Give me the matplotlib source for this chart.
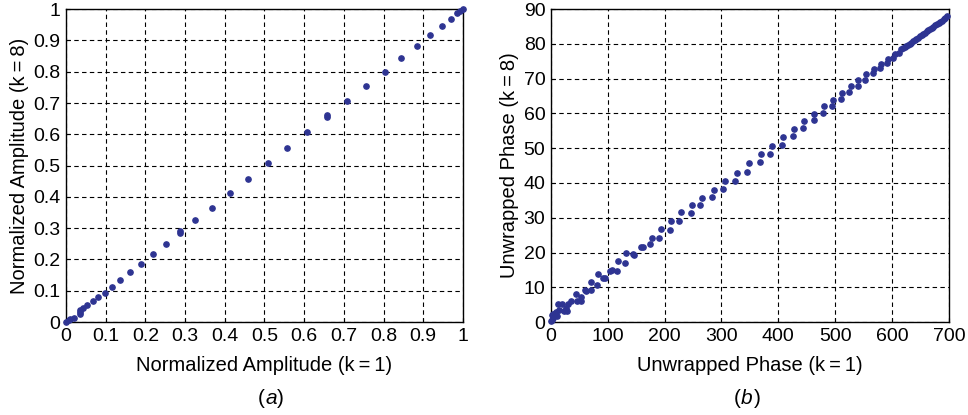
import numpy as np
import matplotlib
matplotlib.use("Agg")
import matplotlib.pyplot as plt

plt.rcParams['font.family'] = ['Liberation Sans', 'DejaVu Sans']

# (a) normalized amplitude, k=1 vs k=8
amp_k1 = [0.0, 0.007, 0.011, 0.021, 0.034, 0.034, 0.036, 0.043, 0.054, 0.067,
          0.080, 0.097, 0.116, 0.137, 0.161, 0.188, 0.218, 0.251, 0.288, 0.288,
          0.326, 0.368, 0.413, 0.459, 0.508, 0.557, 0.608, 0.658, 0.658, 0.708,
          0.756, 0.803, 0.845, 0.884, 0.918, 0.947, 0.970, 0.986, 0.993, 1.0]
amp_k8 = [0.0, 0.005, 0.011, 0.014, 0.025, 0.032, 0.037, 0.044, 0.054, 0.067,
          0.080, 0.094, 0.112, 0.135, 0.160, 0.186, 0.217, 0.249, 0.284, 0.290,
          0.325, 0.366, 0.411, 0.457, 0.509, 0.555, 0.608, 0.655, 0.662, 0.705,
          0.754, 0.800, 0.844, 0.882, 0.916, 0.945, 0.968, 0.988, 0.994, 0.999]

# (b) unwrapped phase, k=1 vs k=8
ph_k1 = [0.5, 2, 3, 1, 4, 6, 8, 11, 13, 14, 20, 23, 26, 28, 30, 36, 44, 45, 52, 53,
         60, 62, 71, 71, 81, 83, 92, 95, 104, 107, 116, 118, 130, 132, 146, 144,
         159, 162, 174, 177, 190, 193, 209, 212, 226, 229, 246, 248, 263, 265,
         284, 287, 302, 306, 324, 327, 345, 348, 367, 369, 386, 389, 406, 408,
         425, 427, 444, 445, 462, 463, 478, 481, 495, 497, 511, 512, 525, 527,
         540, 541, 553, 555, 567, 568, 579, 581, 591, 593, 602, 605, 613, 615,
         619, 622, 625, 628, 631, 634, 637, 640, 643, 646, 649, 652, 655, 658,
         661, 664, 667, 670, 673, 676, 679, 682, 685, 688, 691, 694, 697]
ph_k8 = [0.3, 0.5, 1.2, 2.0, 2.4, 2.4, 2.9, 1.6, 5.3, 3.4, 5.1, 3.2, 4.1, 3.1, 5.3, 6.0, 8.1, 6.0, 6.0, 7.2,
         9.1, 8.9, 11.4, 9.3, 10.6, 13.9, 12.6, 12.8, 14.6, 15.0, 14.8, 17.6, 17.0, 19.8, 19.3, 19.5,
         21.5, 21.7, 22.5, 24.3, 24.2, 26.7, 26.5, 29.2, 29.0, 31.7, 31.5, 33.6, 33.8, 35.6,
         35.9, 37.9, 38.2, 40.5, 40.7, 43.0, 43.2, 45.6, 45.9, 48.2, 48.4, 50.7, 50.8, 53.2,
         53.4, 55.6, 55.7, 57.8, 58.0, 59.9, 60.1, 62.1, 62.2, 64.0, 64.2, 65.9, 66.1, 67.8,
         68.0, 69.6, 69.7, 71.3, 71.5, 72.8, 73.0, 74.3, 74.6, 75.7, 76.0, 77.1, 77.3, 78.4,
         78.7, 79.0, 79.4, 79.7, 80.1, 80.4, 80.8, 81.1, 81.5, 81.8, 82.2, 82.5, 82.9, 83.2,
         83.6, 83.9, 84.3, 84.6, 85.0, 85.3, 85.7, 86.0, 86.4, 86.7, 87.1, 87.5, 87.9]

amp_ticks = [0, 0.1, 0.2, 0.3, 0.4, 0.5, 0.6, 0.7, 0.8, 0.9, 1]
amp_labels = ['0', '0.1', '0.2', '0.3', '0.4', '0.5', '0.6', '0.7', '0.8', '0.9', '1']
ph_xticks = [0, 100, 200, 300, 400, 500, 600, 700]
ph_yticks = [0, 10, 20, 30, 40, 50, 60, 70, 80, 90]

dot = '#2e3492'

fig = plt.figure(figsize=(9.68, 4.15), dpi=100)
ax1 = fig.add_axes([0.0682, 0.224, 0.410, 0.754])
ax2 = fig.add_axes([0.5692, 0.224, 0.411, 0.754])


def style(ax):
    ax.grid(True, color='black', linestyle=(0, (4, 3)), linewidth=0.8)
    ax.set_axisbelow(True)
    ax.tick_params(direction='in', length=3, labelsize=14, pad=4)
    for s in ax.spines.values():
        s.set_linewidth(1.0)


ax1.plot(amp_k1, amp_k8, 'o', color=dot, markersize=3.8, clip_on=False, zorder=3)
ax1.set_xlim(0, 1)
ax1.set_ylim(0, 1)
ax1.set_xticks(amp_ticks, amp_labels)
ax1.set_yticks(amp_ticks, amp_labels)
style(ax1)
ax1.set_xlabel('Normalized Amplitude (k\u2009=\u20091)', fontsize=14.5, labelpad=8)
ax1.set_ylabel('Normalized Amplitude (k\u2009=\u20098)', fontsize=14.5, labelpad=3)

ax2.plot(ph_k1, ph_k8, 'o', color=dot, markersize=3.8, clip_on=False, zorder=3)
ax2.set_xlim(0, 700)
ax2.set_ylim(0, 90)
ax2.set_xticks(ph_xticks)
ax2.set_yticks(ph_yticks)
style(ax2)
ax2.set_xlabel('Unwrapped Phase (k\u2009=\u20091)', fontsize=14.5, labelpad=8)
ax2.set_ylabel('Unwrapped Phase (k\u2009=\u20098)', fontsize=14.5, labelpad=3)

fig.text(0.274, 0.04, '(', fontsize=15, ha='right', va='center')
fig.text(0.274, 0.04, 'a', fontsize=15, style='italic', ha='left', va='center')
fig.text(0.2865, 0.04, ')', fontsize=15, ha='left', va='center')
fig.text(0.765, 0.04, '(', fontsize=15, ha='right', va='center')
fig.text(0.765, 0.04, 'b', fontsize=15, style='italic', ha='left', va='center')
fig.text(0.7785, 0.04, ')', fontsize=15, ha='left', va='center')

fig.savefig('out.png', dpi=100)
